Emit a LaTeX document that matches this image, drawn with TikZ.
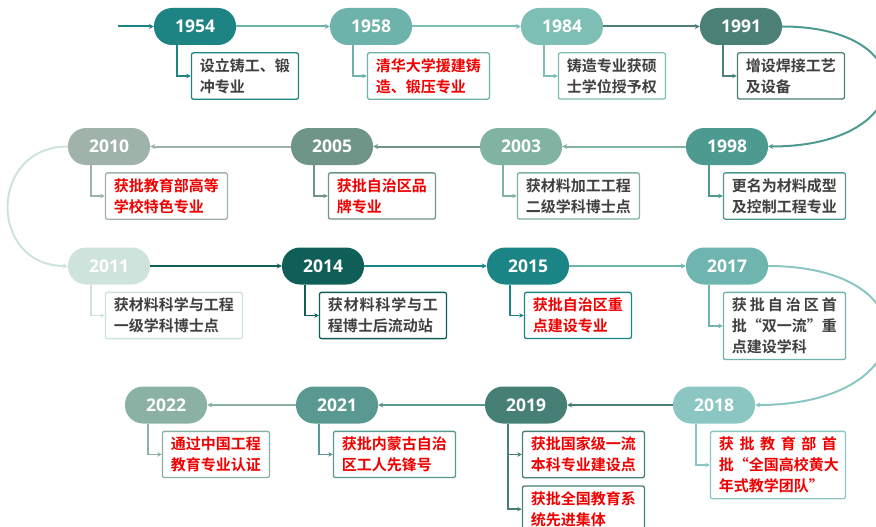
\documentclass[tikz,border=0pt]{standalone}
\usepackage{fontspec}
\setmainfont{Open Sans}
\newfontfamily\cjk{Noto Sans CJK SC}[BoldFont={Noto Sans CJK SC Bold}]
\usetikzlibrary{arrows.meta,positioning}
\definecolor{cA}{HTML}{1D8383}
\definecolor{cB}{HTML}{6DB3AC}
\definecolor{cC}{HTML}{7DBFB5}
\definecolor{cD}{HTML}{4B8077}
\definecolor{cE}{HTML}{4D9A90}
\definecolor{cF}{HTML}{80B3A2}
\definecolor{cG}{HTML}{6F9488}
\definecolor{cH}{HTML}{A0B3AB}
\definecolor{cI}{HTML}{CFE3DD}
\definecolor{cJ}{HTML}{0F5F58}
\definecolor{cK}{HTML}{1B8585}
\definecolor{cL}{HTML}{6DB5AE}
\definecolor{cM}{HTML}{8CC6C2}
\definecolor{cN}{HTML}{457F76}
\definecolor{cO}{HTML}{5A9991}
\definecolor{cP}{HTML}{8BB1A4}
\definecolor{txtgray}{HTML}{404040}
\definecolor{txtred}{HTML}{F00000}
\newcommand{\spr}[2]{\makebox[#1][s]{#2}}
\tikzset{
  x=1pt, y=-1pt,
  pill/.style={fill=#1, rounded corners=18pt, minimum width=82pt, minimum height=37pt,
    inner sep=0pt, text=white, font=\fontsize{17.5}{17.5}\selectfont\bfseries},
  box/.style={draw=#1, fill=white, line width=1.3pt, rounded corners=2pt,
    align=left, inner xsep=8.5pt, inner ysep=5.5pt,
    font=\cjk\bfseries\fontsize{15}{21}\selectfont, text=txtgray},
  redtxt/.style={text=txtred},
  mline/.style={draw=#1, line width=2pt, -{Stealth[length=5pt,width=5pt]}},
  sline/.style={draw=#1, line width=1.4pt, -{Stealth[length=4.5pt,width=4.5pt]}},
}
\begin{document}
\begin{tikzpicture}
\useasboundingbox (0,0) rectangle (876,527);
% pills
\node[pill=cA] (p1954) at (195,26.5) {1954};
\node[pill=cB] (p1958) at (371,26.5) {1958};
\node[pill=cC] (p1984) at (562,26.5) {1984};
\node[pill=cD] (p1991) at (741,26.5) {1991};
\node[pill=cH] (p2010) at (109,146.5) {2010};
\node[pill=cG] (p2005) at (332,146.5) {2005};
\node[pill=cF] (p2003) at (521,146.5) {2003};
\node[pill=cE] (p1998) at (727,146.5) {1998};
\node[pill=cI] (p2011) at (109,266) {2011};
\node[pill=cJ] (p2014) at (323,266) {2014};
\node[pill=cK] (p2015) at (528,266) {2015};
\node[pill=cL] (p2017) at (727,266) {2017};
\node[pill=cP] (p2022) at (166,405) {2022};
\node[pill=cO] (p2021) at (337,405) {2021};
\node[pill=cN] (p2019) at (526,405) {2019};
\node[pill=cM] (p2018) at (714,405) {2018};
\coordinate (start) at (118,26.5);
% boxes
\node[box=cA, below right=7pt and 37pt of p1954.south west] (b1954) {设立铸工、锻\\冲专业};
\node[box=cB, redtxt, below right=7pt and 37pt of p1958.south west] (b1958) {清华大学援建铸\\造、锻压专业};
\node[box=cC, below right=7pt and 37pt of p1984.south west] (b1984) {铸造专业获硕\\士学位授予权};
\node[box=cD, below right=7pt and 37pt of p1991.south west] (b1991) {增设焊接工艺\\及设备};
\node[box=cH, redtxt, below right=7pt and 37pt of p2010.south west] (b2010) {获批教育部高等\\学校特色专业};
\node[box=cG, redtxt, below right=7pt and 37pt of p2005.south west] (b2005) {获批自治区品\\牌专业};
\node[box=cF, below right=7pt and 37pt of p2003.south west] (b2003) {获材料加工工程\\二级学科博士点};
\node[box=cE, below right=7pt and 37pt of p1998.south west] (b1998) {更名为材料成型\\及控制工程专业};
\node[box=cI, below right=7pt and 37pt of p2011.south west] (b2011) {获材料科学与工程\\一级学科博士点};
\node[box=cJ, below right=7pt and 37pt of p2014.south west] (b2014) {\spr{110pt}{获\hfill 材\hfill 料\hfill 科\hfill 学\hfill 与\hfill 工}\\程博士后流动站};
\node[box=cK, redtxt, below right=7pt and 37pt of p2015.south west] (b2015) {获批自治区重\\点建设专业};
\node[box=cL, below right=7pt and 37pt of p2017.south west] (b2017) {\spr{105pt}{获\hfill 批\hfill 自\hfill 治\hfill 区\hfill 首}\\\spr{105pt}{批\hfill “双\hfill 一\hfill 流”\hfill 重}\\点建设学科};
\node[box=cP, redtxt, below right=7pt and 37pt of p2022.south west] (b2022) {通过中国工程\\教育专业认证};
\node[box=cO, redtxt, below right=7pt and 37pt of p2021.south west] (b2021) {获批内蒙古自治\\区工人先锋号};
\node[box=cN, redtxt, below right=7pt and 37pt of p2019.south west] (b2019a) {获批国家级一流\\本科专业建设点};
\node[box=cN, redtxt, below=7pt of b2019a.south west, anchor=north west] (b2019b) {获批全国教育系\\统先进集体};
\node[box=cM, redtxt, below right=7pt and 37pt of p2018.south west] (b2018) {\spr{118pt}{获\hfill 批\hfill 教\hfill 育\hfill 部\hfill 首}\\\spr{118pt}{批\hfill “全\hfill 国\hfill 高\hfill 校\hfill 黄\hfill 大}\\年式教学团队”};
% main line
\draw[mline=cA] (start) -- (p1954);
\draw[mline=cB] (p1954) -- (p1958);
\draw[mline=cC] (p1958) -- (p1984);
\draw[mline=cD] (p1984) -- (p1991);
\draw[mline=cE] (p1991.east) .. controls (925,26.5) and (920,146.5) .. (p1998.east);
\draw[mline=cF] (p1998) -- (p2003);
\draw[mline=cG] (p2003) -- (p2005);
\draw[mline=cH] (p2005) -- (p2010);
\draw[mline=cI] (p2010.west) .. controls (-12,146.5) and (-12,266) .. (p2011.west);
\draw[mline=cJ] (p2011) -- (p2014);
\draw[mline=cK] (p2014) -- (p2015);
\draw[mline=cL] (p2015) -- (p2017);
\draw[mline=cM] (p2017.east) .. controls (932,266) and (925,405) .. (p2018.east);
\draw[mline=cN] (p2018) -- (p2019);
\draw[mline=cO] (p2019) -- (p2021);
\draw[mline=cP] (p2021) -- (p2022);
% side connectors
\draw[sline=cA] ([xshift=23pt]p1954.south west) |- (b1954.west);
\draw[sline=cB] ([xshift=23pt]p1958.south west) |- (b1958.west);
\draw[sline=cC] ([xshift=23pt]p1984.south west) |- (b1984.west);
\draw[sline=cD] ([xshift=23pt]p1991.south west) |- (b1991.west);
\draw[sline=cH] ([xshift=23pt]p2010.south west) |- (b2010.west);
\draw[sline=cG] ([xshift=23pt]p2005.south west) |- (b2005.west);
\draw[sline=cF] ([xshift=23pt]p2003.south west) |- (b2003.west);
\draw[sline=cE] ([xshift=23pt]p1998.south west) |- (b1998.west);
\draw[sline=cI] ([xshift=23pt]p2011.south west) |- (b2011.west);
\draw[sline=cJ] ([xshift=23pt]p2014.south west) |- (b2014.west);
\draw[sline=cK] ([xshift=23pt]p2015.south west) |- (b2015.west);
\draw[sline=cL] ([xshift=23pt]p2017.south west) |- (b2017.west);
\draw[sline=cP] ([xshift=23pt]p2022.south west) |- (b2022.west);
\draw[sline=cO] ([xshift=23pt]p2021.south west) |- (b2021.west);
\draw[sline=cN] ([xshift=23pt]p2019.south west) |- (b2019a.west);
\draw[sline=cN] ([xshift=23pt]p2019.south west) |- (b2019b.west);
\draw[sline=cM] ([xshift=23pt]p2018.south west) |- (b2018.west);
\end{tikzpicture}
\end{document}
